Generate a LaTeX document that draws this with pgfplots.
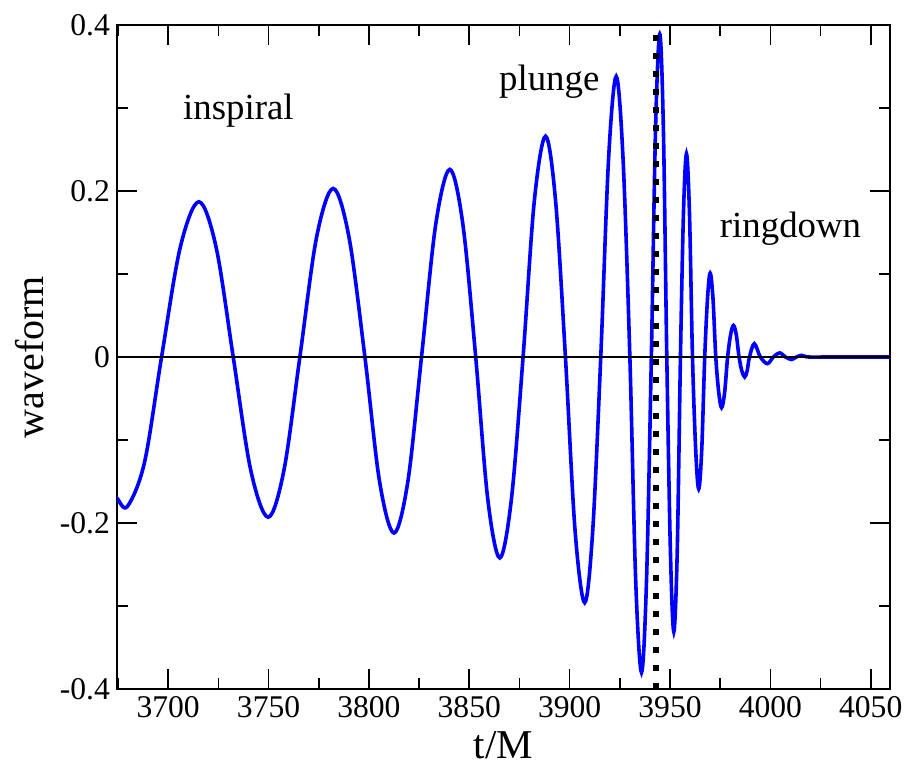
\documentclass[border=0pt]{standalone}
\usepackage{fontspec}
\setmainfont{Liberation Serif}
\usepackage{pgfplots}
\pgfplotsset{compat=1.18}
\begin{document}
\begin{tikzpicture}
\begin{axis}[
  at={(0,0)}, anchor=south west,
  scale only axis, width=386.5pt, height=332pt,
  xmin=3674.5, xmax=4059.6, ymin=-0.4, ymax=0.4,
  xtick={3700,3750,3800,3850,3900,3950,4000,4050},
  xticklabels={3700,3750,3800,3850,3900,3950,4000,4050},
  ytick={-0.4,-0.2,0,0.2,0.4},
  yticklabels={-0.4,-0.2,0,0.2,0.4},
  minor xtick={3675,3725,3775,3825,3875,3925,3975,4025},
  minor ytick={-0.3,-0.1,0.1,0.3},
  tick align=inside,
  major tick length=10pt, minor tick length=5.5pt,
  every tick/.style={black, line width=0.8pt},
  axis line style={black, line width=1pt},
  ticklabel style={font=\rmfamily\fontsize{15.8}{18}\selectfont},
  xlabel={t/M}, ylabel={waveform},
  xlabel style={at={(axis description cs:0.5,-0.105)}, anchor=base, font=\rmfamily\fontsize{20.5}{24}\selectfont},
  ylabel style={at={(axis description cs:-0.0957,0.5)}, anchor=base, font=\rmfamily\fontsize{20}{24}\selectfont},
  clip=true,
]
\addplot[blue, line width=1.8pt, smooth, tension=0.55] coordinates {
(3672,-0.162) (3674.5,-0.170) (3679.7,-0.180) (3688.2,-0.127) (3696.7,0)
(3706.0,0.132) (3715.3,0.187) (3723.9,0.132) (3732.4,0)
(3741.1,-0.136) (3749.8,-0.193) (3757.7,-0.136) (3765.6,0)
(3773.9,0.144) (3782.2,0.203) (3790.1,0.144) (3798.0,0)
(3805.3,-0.150) (3812.5,-0.212) (3819.4,-0.150) (3826.2,0)
(3833.3,0.160) (3840.3,0.226) (3846.8,0.160) (3853.2,0)
(3859.2,-0.171) (3865.2,-0.242) (3871.0,-0.171) (3876.8,0)
(3882.4,0.188) (3888.0,0.266) (3893.0,0.188) (3897.9,0)
(3902.7,-0.209) (3907.5,-0.296) (3911.5,-0.209) (3915.5,0)
(3919.4,0.239) (3923.2,0.338) (3926.6,0.239) (3930.0,0)
(3932.9,-0.269) (3935.8,-0.380) (3938.3,-0.269) (3940.7,0)
(3942.8,0.275) (3944.9,0.389) (3946.7,0.275) (3948.4,0)
(3950.2,-0.234) (3951.9,-0.331) (3953.6,-0.234) (3955.2,0)
(3956.7,0.173) (3958.2,0.245) (3959.7,0.173) (3961.2,0)
(3962.8,-0.112) (3964.3,-0.159) (3965.8,-0.112) (3967.3,0)
(3968.7,0.071) (3970.0,0.101) (3971.4,0.071) (3972.8,0)
(3974.3,-0.043) (3975.7,-0.061) (3977.2,-0.043) (3978.7,0)
(3980.2,0.027) (3981.6,0.038) (3983.0,0.027) (3984.4,0)
(3985.8,-0.017) (3987.2,-0.024) (3988.4,-0.017) (3989.6,0)
(3992.0,0.016) (3995.0,0) (3998.5,-0.008) (4001.5,0)
(4004.6,0.005) (4007.5,0) (4010.5,-0.003) (4013.0,0)
(4015.6,0.002) (4019.0,0) (4030,0) (4062,0)
};
\addplot[black, line width=1.2pt] coordinates {(3674.5,0) (4059.6,0)};
\addplot[black, line width=2.8pt, dash pattern=on 2.8pt off 6.2pt] coordinates {(3942.9,-0.4) (3942.9,0.4)};
\node[anchor=base west, inner sep=0pt, font=\rmfamily\fontsize{18.4}{22}\selectfont] at (axis cs:3707.3,0.2867) {inspiral};
\node[anchor=base west, inner sep=0pt, font=\rmfamily\fontsize{18.4}{22}\selectfont] at (axis cs:3864.7,0.3205) {plunge};
\node[anchor=base west, inner sep=0pt, font=\rmfamily\fontsize{18.4}{22}\selectfont] at (axis cs:3974.7,0.1434) {ringdown};
\end{axis}
\pgfresetboundingbox
\path[use as bounding box] (-58.5pt,-38pt) rectangle (395.5pt,344.5pt);
\end{tikzpicture}
\end{document}
